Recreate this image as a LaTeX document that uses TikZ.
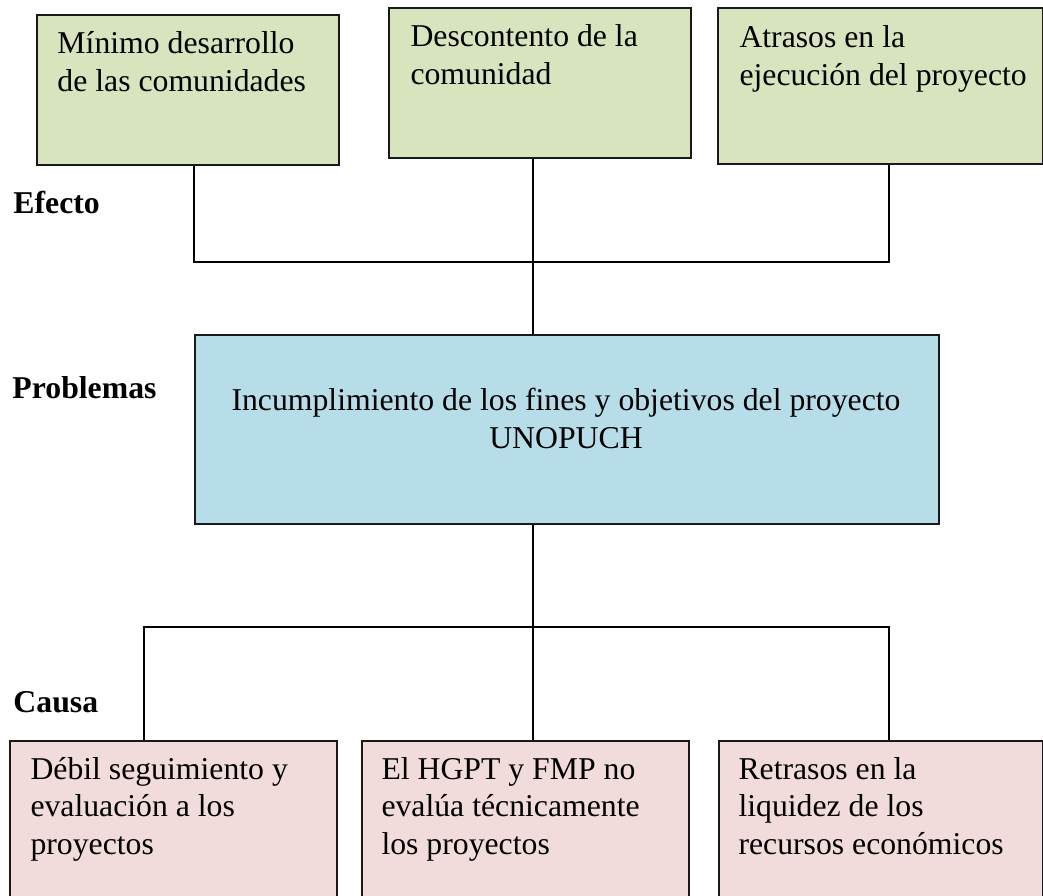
\documentclass[tikz,border=0pt]{standalone}
\usepackage{fontspec}
\setmainfont{Liberation Serif}
\definecolor{efverde}{RGB}{215,228,189}
\definecolor{probazul}{RGB}{183,221,232}
\definecolor{causarosa}{RGB}{242,220,219}
\definecolor{borde}{RGB}{25,25,25}
\tikzset{every picture/.style={line width=0.75pt}}
\begin{document}
\begin{tikzpicture}[x=0.75pt,y=0.75pt,yscale=-1,xscale=1,
	caja/.style={draw=borde, line width=1.5pt, inner sep=0pt, anchor=north west},
	texto/.style={anchor=base west, align=left, inner sep=0pt, font=\fontsize{23.8}{27.8}\selectfont},
	rotulo/.style={anchor=base west, inner sep=0pt, font=\fontsize{23.8}{27.8}\selectfont\bfseries},
	linea/.style={line width=1.2pt}]
	\useasboundingbox (0,0) rectangle (1043,896);
	\clip (0,0) rectangle (1043,896);

	%Shape: Rectangle [efectos]
	\node[caja, fill=efverde, minimum width=226.5pt, minimum height=112.5pt] (ef1) at (36,14) {};
	\node[caja, fill=efverde, minimum width=226.5pt, minimum height=112.5pt] (ef2) at (388,7) {};
	\node[caja, fill=efverde, minimum width=243.75pt, minimum height=117pt] (ef3) at (717,7) {};
	%Shape: Rectangle [problema]
	\node[caja, fill=probazul, minimum width=558pt, minimum height=141.75pt] (prob) at (194,334) {};
	%Shape: Rectangle [causas]
	\node[caja, fill=causarosa, minimum width=245.25pt, minimum height=120pt] (ca1) at (9,740) {};
	\node[caja, fill=causarosa, minimum width=245.25pt, minimum height=120pt] (ca2) at (361,740) {};
	\node[caja, fill=causarosa, minimum width=243pt, minimum height=120pt] (ca3) at (718,740) {};

	%Straight Lines [efecto - problema]
	\coordinate (efI) at (194,262);
	\coordinate (efC) at (533,262);
	\coordinate (efD) at (889,262);
	\draw[linea] (ef1.south -| efI) -- (efI) -- (efD) -- (ef3.south -| efD);
	\draw[linea] (ef2.south -| efC) -- (prob.north -| efC);
	%Straight Lines [problema - causa]
	\coordinate (caI) at (144,627);
	\coordinate (caC) at (533,627);
	\coordinate (caD) at (889,627);
	\draw[linea] (prob.south -| caC) -- (caC);
	\draw[linea] (ca1.north -| caI) -- (caI) -- (caD) -- (ca3.north -| caD);
	\draw[linea] (caC) -- (ca2.north -| caC);

	% Text Node (base = last line)
	\node[texto] (tef1) at (57,91) {Mínimo desarrollo\\de las comunidades};
	% Text Node
	\node[texto] (tef2) at (410,84) {Descontento de la\\comunidad};
	% Text Node
	\node[texto] (tef3) at (739,85) {Atrasos en la\\ejecución del proyecto};
	% Text Node
	\node[texto, align=center, anchor=base] (tprob) at (566,448) {Incumplimiento de los fines y objetivos del proyecto\\UNOPUCH};
	% Text Node
	\node[texto] (tca1) at (30,854) {Débil seguimiento y\\evaluación a los\\proyectos};
	% Text Node
	\node[texto] (tca2) at (381,854) {El HGPT y FMP no\\evalúa técnicamente\\los proyectos};
	% Text Node
	\node[texto] (tca3) at (738,854) {Retrasos en la\\liquidez de los\\recursos económicos};
	% Text Node
	\node[rotulo] (efecto) at (13,213) {Efecto};
	% Text Node
	\node[rotulo] (problemas) at (12,398) {Problemas};
	% Text Node
	\node[rotulo] (causa) at (13,712) {Causa};

\end{tikzpicture}
\end{document}
